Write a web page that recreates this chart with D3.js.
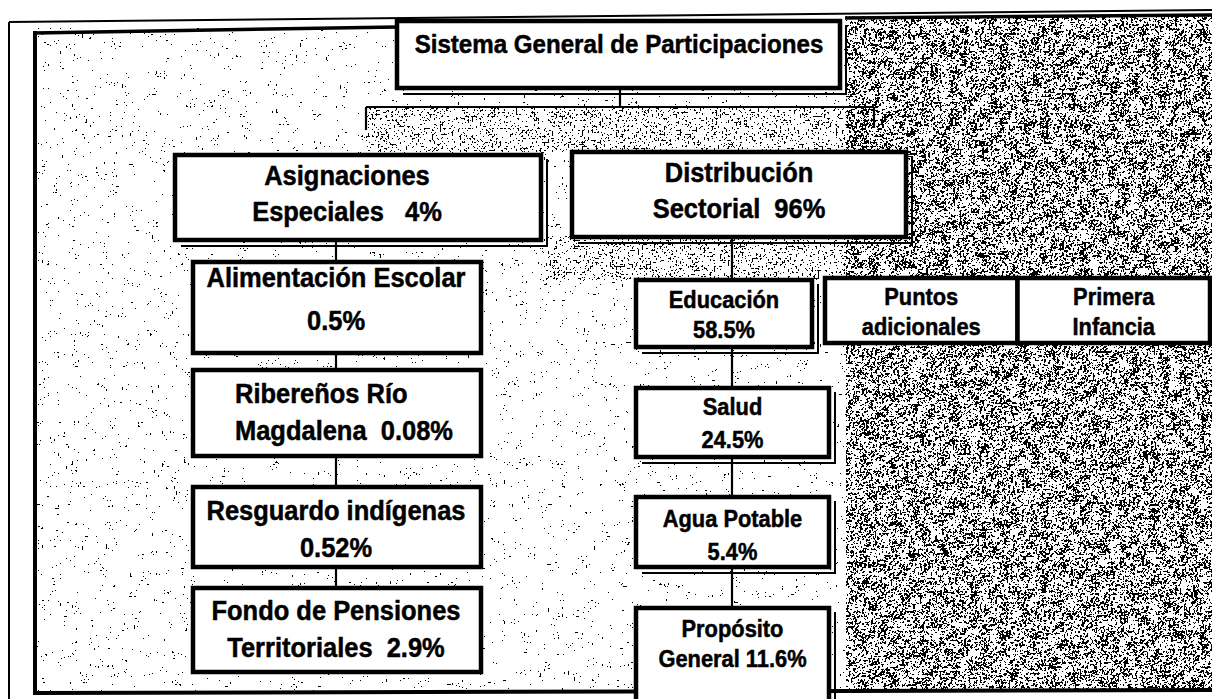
<!DOCTYPE html>
<html>
<head>
<meta charset="utf-8">
<script src="https://cdn.jsdelivr.net/npm/d3@7"></script>
<style>
  body { margin: 0; background: #fff; }
  text {
    font-family: "Liberation Sans", Arial, sans-serif;
    font-weight: bold;
    fill: #000;
    stroke: #000;
    stroke-width: 0.5px;
    white-space: pre;
  }
</style>
</head>
<body>
<div id="chart"></div>
<script>
// ---- data ----
var rootLabel = "Sistema General de Participaciones";

var branchTitles = ["Asignaciones", "Distribución"];
var branchSubtitles = ["Especiales", "Sectorial"];
var branchShares = [4, 96];

var specialLine1 = ["Alimentación Escolar", "Ribereños Río", "Resguardo indígenas", "Fondo de Pensiones"];
var specialLine2 = ["", "Magdalena", "", "Territoriales"];
var specialShares = [0.5, 0.08, 0.52, 2.9];

var sectorLine1 = ["Educación", "Salud", "Agua Potable", "Propósito"];
var sectorLine2 = ["", "", "", "General"];
var sectorShares = [58.5, 24.5, 5.4, 11.6];

var extraLine1 = ["Puntos", "Primera"];
var extraLine2 = ["adicionales", "Infancia"];

function pct(v) { return v + "%"; }
function line2(prefix, v, gap) { return prefix ? prefix + gap + pct(v) : pct(v); }

// ---- layout ----
var W = 1212, H = 699;
var narrow = 0.91;   // the scan uses a condensed face

var svg = d3.select("#chart")
  .append("svg")
    .attr("width", W)
    .attr("height", H);

// scales that place the boxes of each column
var specialTop = d3.scaleOrdinal().domain(specialLine1).range([262, 370, 487, 588]);
var specialH = d3.scaleOrdinal().domain(specialLine1).range([91, 86, 80, 84]);
var specialB1 = d3.scaleOrdinal().domain(specialLine1).range([25, 33, 33, 32]);
var specialB2 = d3.scaleOrdinal().domain(specialLine1).range([68, 70, 70, 69]);
var specialX = d3.scaleLinear().domain([0, 1]).range([193, 481]);

var sectorTop = d3.scaleOrdinal().domain(sectorLine1).range([280, 388, 497, 608]);
var sectorH = d3.scaleOrdinal().domain(sectorLine1).range([67, 69, 70, 110]);
var sectorW = d3.scaleOrdinal().domain(sectorLine1).range([176, 193, 193, 193]);
var sectorB1 = d3.scaleOrdinal().domain(sectorLine1).range([28, 27, 30, 29]);
var sectorB2 = d3.scaleOrdinal().domain(sectorLine1).range([58, 60, 63, 59]);
var sectorX0 = 636;

var extraX = d3.scaleBand().domain(extraLine1).range([825, 1210]).padding(0);

var branchX = d3.scaleOrdinal().domain(branchTitles).range([175, 572]);
var branchW = d3.scaleOrdinal().domain(branchTitles).range([366, 334]);
var branchTop = d3.scaleOrdinal().domain(branchTitles).range([155, 152]);
var branchTextX = d3.scaleOrdinal().domain(branchTitles).range([347, 739]);
var branchGap = d3.scaleOrdinal().domain(branchTitles).range(["   ", "  "]);

// ---- scan speckle texture: fine grain, clustered by a coarser noise ----
var defs = svg.append("defs");
function speckle(id, cut, seed, fine, k3) {
  var n = 80, tv = [];
  for (var i = 0; i < n; i++) tv.push(i / n >= cut ? 1 : 0);
  var opaque = "1 0 0 0 0  0 1 0 0 0  0 0 1 0 0  0 0 0 0 1";
  var f = defs.append("filter").attr("id", id)
    .attr("x", 0).attr("y", 0).attr("width", "100%").attr("height", "100%")
    .attr("color-interpolation-filters", "sRGB");
  f.append("feTurbulence").attr("type", "fractalNoise")
    .attr("baseFrequency", fine).attr("numOctaves", 2).attr("seed", seed).attr("result", "f0");
  f.append("feColorMatrix").attr("in", "f0").attr("type", "matrix").attr("values", opaque).attr("result", "fine");
  f.append("feTurbulence").attr("type", "fractalNoise")
    .attr("baseFrequency", 0.1).attr("numOctaves", 2).attr("seed", seed + 7).attr("result", "c0");
  f.append("feColorMatrix").attr("in", "c0").attr("type", "matrix").attr("values", opaque).attr("result", "coarse");
  f.append("feComposite").attr("in", "fine").attr("in2", "coarse").attr("operator", "arithmetic")
    .attr("k1", 0).attr("k2", 1).attr("k3", k3).attr("k4", -k3 / 2).attr("result", "mix");
  f.append("feColorMatrix").attr("in", "mix").attr("type", "matrix")
    .attr("values", "0 0 0 0 0  0 0 0 0 0  0 0 0 0 0  1 0 0 0 0");
  f.append("feComponentTransfer").append("feFuncA")
    .attr("type", "discrete").attr("tableValues", tv.join(" "));
}
speckle("light", 0.76, 4, 0.5, 0.4);
speckle("medium", 0.63, 9, 0.5, 0.35);
speckle("heavy", 0.55, 2, 0.45, 0.45);

var tex = svg.append("g");
tex.append("rect").attr("x", 36).attr("y", 28).attr("width", W - 36).attr("height", 664)
  .attr("fill", "#fff").attr("filter", "url(#light)");
tex.append("rect").attr("x", 366).attr("y", 108).attr("width", 510).attr("height", 44)
  .attr("fill", "#fff").attr("filter", "url(#medium)");
tex.append("rect").attr("x", 540).attr("y", 236).attr("width", 306).attr("height", 44)
  .attr("fill", "#fff").attr("filter", "url(#medium)");
tex.append("rect").attr("x", 846).attr("y", 16).attr("width", W - 846).attr("height", 676)
  .attr("fill", "#fff").attr("filter", "url(#heavy)");

// ---- frame ----
var frame = svg.append("g").attr("fill", "none").attr("stroke", "#000");
frame.append("path").attr("d", "M9,22 L1212,10").attr("stroke-width", 2);
frame.append("path").attr("d", "M9,22 L9,699").attr("stroke-width", 2);
frame.append("path").attr("d", "M35,33 L397,27 M845,18 L1212,15").attr("stroke-width", 3.5);
frame.append("path").attr("d", "M35,31 L35,693 L1212,690").attr("stroke-width", 4);

// ---- connectors ----
var links = svg.append("g").attr("stroke", "#000").attr("stroke-width", 2.2).attr("fill", "none");
links.append("path").attr("d", "M620,88 V107 M366,107 H874 M366,107 V130 M874,107 V128");
links.append("line")
  .attr("x1", 336).attr("x2", 336)
  .attr("y1", branchTop(branchTitles[0]) + 85)
  .attr("y2", specialTop(specialLine1[specialLine1.length - 1]));
links.append("line")
  .attr("x1", 732).attr("x2", 732)
  .attr("y1", branchTop(branchTitles[1]) + 86)
  .attr("y2", sectorTop(sectorLine1[sectorLine1.length - 1]));

// box helper
function box(g, x, y, w, h, shadow) {
  if (shadow) {
    g.append("path")
      .attr("d", "M" + (x + w + 6) + "," + (y + 4) + " V" + (y + h + 6) + " H" + (x + 6))
      .attr("fill", "none").attr("stroke", "#000").attr("stroke-width", 2);
  }
  g.append("rect")
    .attr("x", x).attr("y", y).attr("width", w).attr("height", h)
    .attr("fill", "#fff").attr("stroke", "#000").attr("stroke-width", 4.5);
}

// condensed text helper
function label(g, x, y, str, size, anchor) {
  g.append("text")
    .attr("transform", "translate(" + x + "," + y + ") scale(" + narrow + ",1)")
    .attr("text-anchor", anchor || "middle")
    .attr("font-size", size)
    .text(str);
}

// ---- root ----
var gRoot = svg.append("g");
box(gRoot, 397, 21, 443, 67, true);
label(gRoot, 619, 53, rootLabel, 26.5);

// ---- branches ----
branchTitles.forEach(function(t, i) {
  var g = svg.append("g");
  var x = branchX(t), y = branchTop(t), w = branchW(t);
  box(g, x, y, w, 85, true);
  label(g, branchTextX(t), y + 30, t, 28);
  label(g, branchTextX(t), y + 66, branchSubtitles[i] + branchGap(t) + pct(branchShares[i]), 28);
});

// ---- special allocations column ----
var gSpecial = svg.append("g");
specialLine1.forEach(function(t, i) {
  var y = specialTop(t), x0 = specialX(0), x1 = specialX(1);
  box(gSpecial, x0, y, x1 - x0, specialH(t), false);
  var leftAligned = specialLine2[i] === "Magdalena";
  var tx = leftAligned ? 235 : 336;
  var anchor = leftAligned ? "start" : "middle";
  label(gSpecial, tx, y + specialB1(t), t, 28, anchor);
  label(gSpecial, tx, y + specialB2(t), line2(specialLine2[i], specialShares[i], "  "), 28, anchor);
});

// ---- sector column ----
var gSector = svg.append("g");
sectorLine1.forEach(function(t, i) {
  var y = sectorTop(t), w = sectorW(t);
  box(gSector, sectorX0, y, w, sectorH(t), true);
  var cx = sectorX0 + w / 2;
  label(gSector, cx, y + sectorB1(t), t, 24);
  label(gSector, cx, y + sectorB2(t), line2(sectorLine2[i], sectorShares[i], " "), 24);
});

// ---- extra boxes ----
var gExtra = svg.append("g");
extraLine1.forEach(function(t, i) {
  var x = extraX(t), w = extraX.bandwidth();
  box(gExtra, x, 278, w, 65, false);
  label(gExtra, x + w / 2, 305, t, 24);
  label(gExtra, x + w / 2, 335, extraLine2[i], 24);
});
</script>
</body>
</html>
